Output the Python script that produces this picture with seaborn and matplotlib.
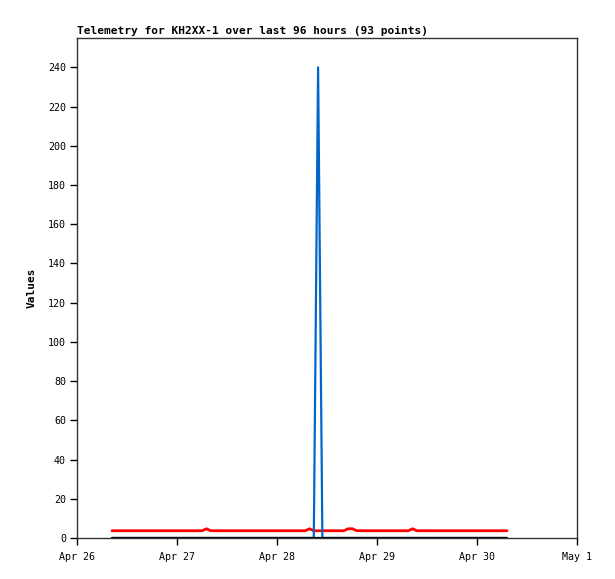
import numpy as np
import pandas as pd
import matplotlib
matplotlib.use("Agg")
import matplotlib.pyplot as plt
import matplotlib.dates as mdates
import seaborn as sns

# 93 telemetry samples, roughly hourly
times = pd.date_range("2024-04-26 08:24", "2024-04-30 07:12", periods=93)

# red channel: flat ~3.7 with a few small bumps
red_vals = [3.7] * 93
for i in [22, 46, 55, 56, 70]:
    red_vals[i] = 4.7

# blue channel: zero except one spike
blue_vals = [0.0] * 93
blue_vals[48] = 240.0

# black channel: zero
black_vals = [0.0] * 93

df = pd.DataFrame({"time": times, "red": red_vals, "blue": blue_vals, "black": black_vals})

sns.set_style("white")
plt.rcParams["font.family"] = ["DejaVu Sans Mono"]
plt.rcParams["text.color"] = "black"
plt.rcParams["axes.labelcolor"] = "black"
plt.rcParams["xtick.color"] = "black"
plt.rcParams["ytick.color"] = "black"

fig = plt.figure(figsize=(6.15, 5.79), dpi=100)
ax = fig.add_axes([77 / 615, 41 / 579, 500 / 615, 500 / 579])

sns.lineplot(data=df, x="time", y="red", color="#ff0000", lw=2.0, ax=ax)
sns.lineplot(data=df, x="time", y="blue", color="#0066cc", lw=1.6, ax=ax)
sns.lineplot(data=df, x="time", y="black", color="#000000", lw=1.6, ax=ax)

ax.set_xlim(pd.Timestamp("2024-04-26"), pd.Timestamp("2024-05-01"))
ax.set_ylim(0, 255)
ax.set_yticks(np.arange(0, 241, 20))
ax.xaxis.set_major_locator(mdates.DayLocator())
ax.xaxis.set_major_formatter(mdates.DateFormatter("%b %-d"))

ax.tick_params(axis="x", which="major", direction="out", length=5, width=1,
               labelsize=7.2, pad=5, bottom=True)
ax.tick_params(axis="y", which="major", direction="out", length=5, width=1,
               labelsize=7.2, pad=3, left=True)
for s in ax.spines.values():
    s.set_color("#333333")
    s.set_linewidth(1)

ax.set_xlabel("")
ax.set_ylabel("Values", fontsize=8, fontweight="bold", labelpad=8)
ax.set_title("Telemetry for KH2XX-1 over last 96 hours (93 points)",
             loc="left", fontsize=8, fontweight="bold", pad=3)

fig.savefig("out.png", dpi=100)
